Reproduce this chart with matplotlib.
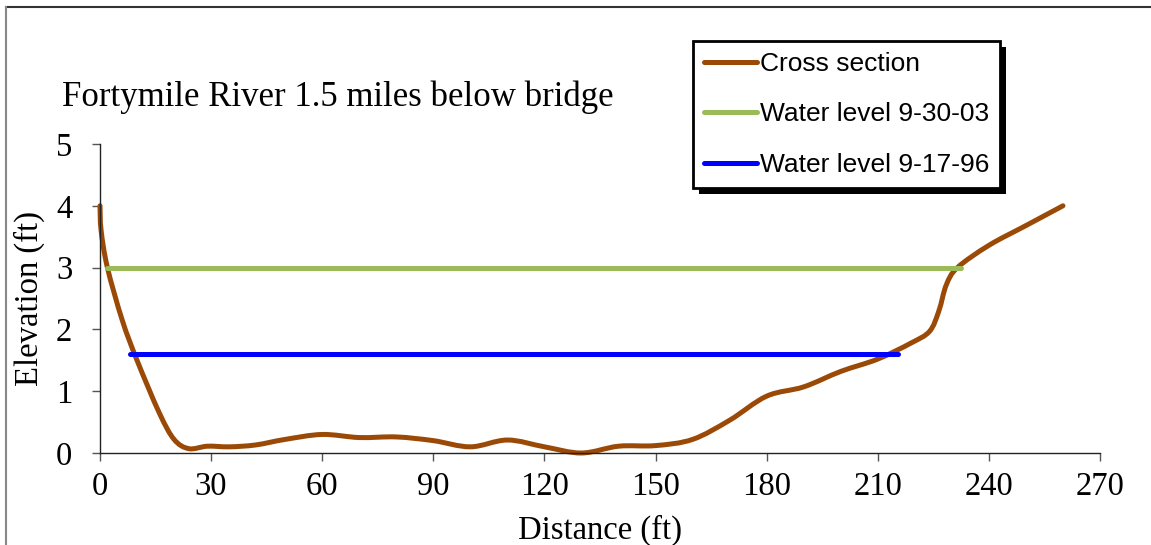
import matplotlib
matplotlib.use("Agg")
import matplotlib.pyplot as plt
from matplotlib.path import Path
from matplotlib.patches import PathPatch, Rectangle
from matplotlib.lines import Line2D

# cross section survey points (distance ft, elevation ft)
dist = [0, 0.3, 2, 6, 10, 16, 20, 24, 29, 35, 42, 50, 60, 70, 80, 90, 100, 110,
        120, 130, 140, 150, 160, 170, 180, 190, 200, 210, 219, 224, 226.5, 228.5,
        231.5, 240, 250, 260]
elev = [4.0, 3.6, 3.0, 2.15, 1.5, 0.65, 0.22, 0.07, 0.11, 0.1, 0.13, 0.22, 0.3,
        0.25, 0.26, 0.2, 0.1, 0.21, 0.1, 0.0, 0.11, 0.12, 0.22, 0.53, 0.92, 1.07,
        1.32, 1.52, 1.78, 1.97, 2.3, 2.72, 3.0, 3.36, 3.68, 4.0]

wl_0930_x = [1.8, 232.6]
wl_0930_y = [3.0, 3.0]
wl_0917_x = [8.1, 215.5]
wl_0917_y = [1.6, 1.6]

xticks = list(range(0, 271, 30))
yticks = [0, 1, 2, 3, 4, 5]

brown = "#9A4A06"
green = "#9BBB59"
blue = "#0000FF"
serif = "Liberation Serif"
sans = "Liberation Sans"


def smooth_path(xs, ys):
    # Excel-style smoothed line: cubic bezier segments through every point
    pts = list(zip(xs, ys))
    n = len(pts)
    verts = [pts[0]]
    codes = [Path.MOVETO]
    for i in range(n - 1):
        p0 = pts[i - 1] if i > 0 else pts[i]
        p1 = pts[i]
        p2 = pts[i + 1]
        p3 = pts[i + 2] if i + 2 < n else pts[i + 1]
        c1 = (p1[0] + (p2[0] - p0[0]) / 6, p1[1] + (p2[1] - p0[1]) / 6)
        c2 = (p2[0] - (p3[0] - p1[0]) / 6, p2[1] - (p3[1] - p1[1]) / 6)
        verts += [c1, c2, p2]
        codes += [Path.CURVE4] * 3
    return Path(verts, codes)


fig = plt.figure(figsize=(11.51, 5.45), dpi=100)
ax = fig.add_axes([100 / 1151, 92 / 545, 1000 / 1151, 309 / 545])

patch = PathPatch(smooth_path(dist, elev), facecolor="none", edgecolor=brown,
                  lw=3.6, capstyle="round", joinstyle="round", clip_on=False, zorder=2)
ax.add_patch(patch)
ax.plot(wl_0930_x, wl_0930_y, color=green, lw=3.6, solid_capstyle="round",
        clip_on=False, zorder=3)
ax.plot(wl_0917_x, wl_0917_y, color=blue, lw=3.6, solid_capstyle="round",
        clip_on=False, zorder=3)

ax.set_xlim(0, 270)
ax.set_ylim(0, 5)
ax.set_xticks(xticks)
ax.set_yticks(yticks)
ax.spines["top"].set_visible(False)
ax.spines["right"].set_visible(False)
for s in ("left", "bottom"):
    ax.spines[s].set_color("#222222")
    ax.spines[s].set_linewidth(1.0)
ax.tick_params(axis="x", direction="out", length=6, width=1, color="#555555",
               pad=7, labelsize=23.5)
ax.tick_params(axis="y", direction="out", length=6, width=1, color="#555555",
               pad=14, labelsize=23.5)
for lab in ax.get_xticklabels() + ax.get_yticklabels():
    lab.set_fontfamily(serif)

ax.set_xlabel("Distance (ft)", fontsize=23.5, fontfamily=serif)
ax.set_ylabel("Elevation (ft)", fontsize=23.5, fontfamily=serif)
ax.xaxis.set_label_coords(0.5, -0.2)
ax.yaxis.set_label_coords(-0.055, 0.5)

fig.text(62 / 1151, 1 - 106 / 545, "Fortymile River 1.5 miles below bridge",
         fontsize=25, fontfamily=serif, ha="left", va="baseline")

# outer chart frame (only top and left edges fall inside the picture)
fig.add_artist(Line2D([6 / 1151, 1.0], [1 - 7 / 545, 1 - 7 / 545],
                      transform=fig.transFigure, color="#333333", lw=1.5))
fig.add_artist(Line2D([6 / 1151, 6 / 1151], [1 - 7 / 545, 0.0],
                      transform=fig.transFigure, color="#888888", lw=1.5))

# legend with solid black drop shadow
handles = [Line2D([], [], color=brown, lw=3.6, solid_capstyle="round"),
           Line2D([], [], color=green, lw=3.6, solid_capstyle="round"),
           Line2D([], [], color=blue, lw=3.6, solid_capstyle="round")]
labels = ["Cross section", "Water level 9-30-03", "Water level 9-17-96"]
leg = fig.legend(handles, labels, loc="upper left",
                 bbox_to_anchor=(693 / 1151, 1 - 41 / 545),
                 prop={"family": sans, "size": 19}, frameon=True, fancybox=False,
                 edgecolor="black", framealpha=1, borderpad=0.42,
                 handlelength=2.0, handletextpad=0.1, labelspacing=1.0,
                 borderaxespad=0)
leg.get_frame().set_linewidth(2)
leg.set_zorder(5)

fig.canvas.draw()
bb = leg.get_window_extent().transformed(fig.transFigure.inverted())
fig.add_artist(Rectangle((bb.x0 + 6 / 1151, bb.y0 - 6 / 545), bb.width, bb.height,
                         transform=fig.transFigure, facecolor="black",
                         edgecolor="none", zorder=4))

fig.savefig("out.png", dpi=100)
